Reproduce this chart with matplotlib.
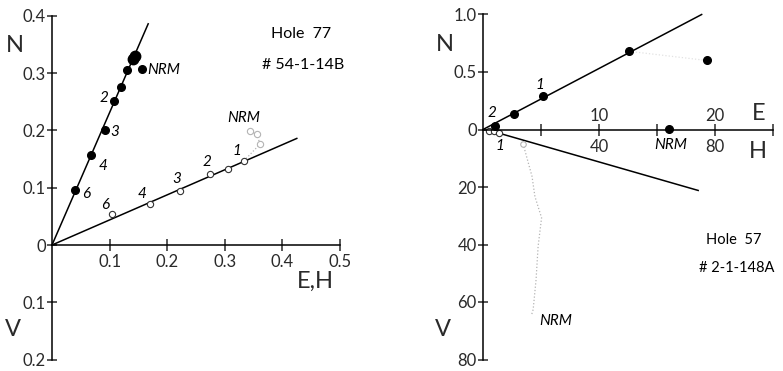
import matplotlib
matplotlib.use("Agg")
import matplotlib.pyplot as plt

plt.rcParams['font.family'] = ['Lato', 'DejaVu Sans']

W, H = 783, 371

# ---- Hole 77, sample 54-1-14B (left diagram) ----
# N vs E (solid symbols)
e77 = [0.040, 0.068, 0.092, 0.108, 0.119, 0.131, 0.141, 0.144, 0.156]
n77 = [0.096, 0.157, 0.200, 0.252, 0.275, 0.305, 0.324, 0.330, 0.307]
step77_solid = ["6", "4", "3", "2", "", "1", "", "", "NRM"]
# V vs H (open symbols)
h77 = [0.105, 0.171, 0.222, 0.274, 0.305, 0.333, 0.361, 0.356, 0.343]
v77 = [0.0535, 0.0716, 0.0948, 0.124, 0.132, 0.1466, 0.176, 0.193, 0.199]
step77_open = ["6", "4", "3", "2", "", "1", "", "", "NRM"]
fit77_solid_e = [0.0, 0.167]
fit77_solid_n = [0.0, 0.386]
fit77_open_h = [0.0, 0.425]
fit77_open_v = [0.0, 0.186]
ticks77_y = [-0.2, -0.1, 0.0, 0.1, 0.2, 0.3, 0.4]
ticklab77_y = ["0.2", "0.1", "0", "0.1", "0.2", "0.3", "0.4"]
ticks77_x = [0.1, 0.2, 0.3, 0.4, 0.5]
ticklab77_x = ["0.1", "0.2", "0.3", "0.4", "0.5"]

# ---- Hole 57, sample 2-1-148A (right diagram) ----
e57 = [1.03, 2.7, 5.2, 12.6, 19.3, 16.0]
n57 = [0.03, 0.139, 0.29, 0.68, 0.60, 0.0]
step57_solid = ["2", "", "1", "", "", "NRM"]
h57 = [2.2, 3.8, 5.6, 13.8, 16.9, 17.9, 20.2, 19.0, 18.3, 17.3, 16.8]
v57 = [0.4, 0.5, 1.3, 4.9, 16.3, 23.3, 30.7, 40.7, 52.2, 62.6, 64.3]
fit57_solid_e = [0.0, 18.85]
fit57_solid_n = [0.0, 1.0]
fit57_open_h = [5.6, 74.2]
fit57_open_v = [1.3, 21.2]
ticks57_v = [0, 20, 40, 60, 80]
ticklab57_v = ["0", "20", "40", "60", "80"]
ticks57_h = [20, 40, 60, 80, 100]
ticklab57_h = ["", "40", "", "80", ""]
ticks57_n = [0.5, 1.0]
ticklab57_n = ["0.5", "1.0"]
ticks57_e = [10, 20]
ticklab57_e = ["10", "20"]


def rect(x0, x1, ytop, ybot):
    return [x0 / W, (H - ybot) / H, (x1 - x0) / W, (ybot - ytop) / H]


fig = plt.figure(figsize=(W / 100, H / 100), dpi=100)
fig.patch.set_facecolor("white")

LW = 1.1
TICK_FS = 12
AX_FS = 17
LAB_FS = 11
GREY = "#b4b4b4"
INK = "#2a2a2a"


def style_axes(ax):
    ax.patch.set_visible(False)
    for s in ("top", "right"):
        ax.spines[s].set_visible(False)
    for s in ("left", "bottom"):
        ax.spines[s].set_linewidth(LW)
        ax.spines[s].set_position(("data", 0))
    ax.tick_params(width=LW, labelsize=TICK_FS, colors=INK)


# ================= left diagram =================
ax = fig.add_axes(rect(52 - 0.075 * 576, 52 + 0.62 * 576,
                       245 - 0.42 * 573, 245 + 0.215 * 573))
ax.set_xlim(-0.075, 0.62)
ax.set_ylim(-0.215, 0.42)
style_axes(ax)
ax.spines["left"].set_bounds(-0.2, 0.4)
ax.spines["bottom"].set_bounds(0, 0.5)
ax.set_yticks(ticks77_y, ticklab77_y)
ax.set_xticks(ticks77_x, ticklab77_x)
ax.tick_params(axis="y", direction="inout", length=7, pad=1)
ax.tick_params(axis="x", direction="inout", length=9, pad=2)

ax.plot(fit77_solid_e, fit77_solid_n, color="black", lw=LW)
ax.plot(fit77_open_h, fit77_open_v, color="black", lw=LW)

ax.plot(e77[:6], n77[:6], "o", color="black", ms=5.5)
ax.plot(e77[6:8], n77[6:8], "o", color="black", ms=7.5)
ax.plot(e77[8:], n77[8:], "o", color="black", ms=5.5)

ax.plot(h77[5:], v77[5:], ":", color=GREY, lw=0.9)
ax.plot(h77[:6], v77[:6], "o", mfc="white", mec="#333333", mew=0.8, ms=4.5)
ax.plot(h77[6:], v77[6:], "o", mfc="white", mec=GREY, mew=0.8, ms=4.5)

off_solid = [(11, -4), (12, -11), (10, -2), (-10, 3), (-11, 0), None, None, None, (5, -1)]
for x, y, t, o in zip(e77, n77, step77_solid, off_solid):
    if t and o:
        ha = "left" if t == "NRM" else "center"
        ax.annotate(t, (x, y), xytext=o, textcoords="offset pixels",
                    ha=ha, va="center", fontsize=LAB_FS, style="italic")
off_open = [(-7, 9), (-8, 10), (-3, 12), (-3, 12), None, (-7, 10), None, None, (-6, 13)]
for x, y, t, o in zip(h77, v77, step77_open, off_open):
    if t and o:
        ax.annotate(t, (x, y), xytext=o, textcoords="offset pixels",
                    ha="center", va="center", fontsize=LAB_FS, style="italic")

ax.text(-0.064, 0.349, "N", fontsize=AX_FS, ha="center", va="center", color=INK)
ax.text(-0.067, -0.148, "V", fontsize=AX_FS, ha="center", va="center", color=INK)
ax.text(0.457, -0.064, "E,H", fontsize=AX_FS, ha="center", va="center", color=INK)
ax.text(0.433, 0.369, "Hole  77", fontsize=11.5, ha="center", va="center")
ax.text(0.436, 0.314, "# 54-1-14B", fontsize=11.5, ha="center", va="center")

# ================= right diagram =================
sh, sv = 2.9, 2.875          # pixels per unit of H and V
x0, y0 = 483, 129.5          # origin in pixels
hl, vl = (-30, 103), (83, -44)
r = rect(x0 + hl[0] * sh, x0 + hl[1] * sh, y0 + vl[1] * sv, y0 + vl[0] * sv)

axv = fig.add_axes(r)
axv.set_xlim(*hl)
axv.set_ylim(*vl)
style_axes(axv)
axv.spines["left"].set_bounds(0, 80)
axv.spines["bottom"].set_bounds(0, 100)
axv.set_yticks(ticks57_v, ticklab57_v)
axv.set_xticks(ticks57_h, ticklab57_h)
axv.tick_params(axis="y", direction="inout", length=7, pad=1)
axv.tick_params(axis="x", direction="inout", length=9, pad=2)

axn = fig.add_axes(r)
axn.set_xlim(hl[0] / 4, hl[1] / 4)
axn.set_ylim(-vl[0] / 40, -vl[1] / 40)
style_axes(axn)
axn.spines["bottom"].set_visible(False)
axn.spines["left"].set_bounds(0, 1.0)
axn.spines["top"].set_visible(True)
axn.spines["top"].set_position(("data", 0))
axn.spines["top"].set_color("none")
axn.set_yticks(ticks57_n, ticklab57_n)
axn.tick_params(axis="y", direction="inout", length=7, pad=1)
axn.xaxis.set_ticks_position("top")
axn.set_xticks(ticks57_e, ticklab57_e)
axn.tick_params(axis="x", length=0, pad=4)

axn.plot(fit57_solid_e, fit57_solid_n, color="black", lw=LW)
axv.plot(fit57_open_h, fit57_open_v, color="black", lw=LW)
axn.plot(e57[3:5], n57[3:5], ":", color="#e2e2e2", lw=0.9)
axn.plot(e57, n57, "o", color="black", ms=5.5)

axv.plot(h57[3:], v57[3:], ":", color=GREY, lw=0.9)
axv.plot(h57[:3], v57[:3], "o", mfc="white", mec="#333333", mew=0.8, ms=4.5)
axv.plot(h57[3:4], v57[3:4], "o", mfc="white", mec=GREY, mew=0.8, ms=4)

off57 = [(-3, 13), None, (-3, 11), None, None, (2, -16)]
for x, y, t, o in zip(e57, n57, step57_solid, off57):
    if t and o:
        axn.annotate(t, (x, y), xytext=o, textcoords="offset pixels",
                     ha="center", va="center", fontsize=LAB_FS, style="italic")
axv.annotate("1", (h57[2], v57[2]), xytext=(1, -13), textcoords="offset pixels",
             ha="center", va="center", fontsize=LAB_FS, style="italic")
axv.annotate("NRM", (h57[-1], v57[-1]), xytext=(8, -7), textcoords="offset pixels",
             ha="left", va="center", fontsize=LAB_FS, style="italic")

axv.text(-13.1, -29.4, "N", fontsize=AX_FS, ha="center", va="center", color=INK)
axv.text(-13.7, 69.7, "V", fontsize=AX_FS, ha="center", va="center", color=INK)
axv.text(94.9, -5.6, "E", fontsize=AX_FS, ha="center", va="center", color=INK)
axv.text(94.9, 7.7, "H", fontsize=AX_FS, ha="center", va="center", color=INK)
axv.text(86.3, 38.4, "Hole  57", fontsize=10.5, ha="center", va="center")
axv.text(87.5, 48.3, "# 2-1-148A", fontsize=10.5, ha="center", va="center")

fig.savefig("out.png", dpi=100)
